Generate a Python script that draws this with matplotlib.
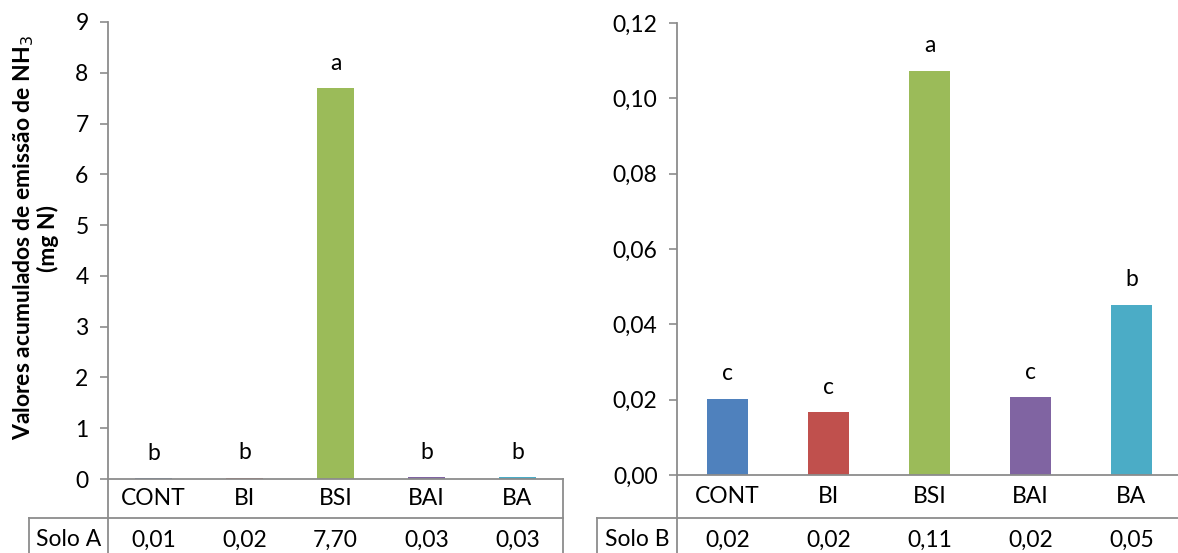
import matplotlib
matplotlib.use('Agg')
import matplotlib.pyplot as plt
from matplotlib.lines import Line2D
import numpy as np

plt.rcParams['font.family'] = ['Lato', 'DejaVu Sans']

# data
categories = ['CONT', 'BI', 'BSI', 'BAI', 'BA']
solo_a = [0.01, 0.02, 7.70, 0.03, 0.03]
solo_b = [0.0202, 0.0166, 0.1073, 0.0206, 0.0452]
letters_a = ['b', 'b', 'a', 'b', 'b']
letters_b = ['c', 'c', 'a', 'c', 'b']
table_a = ['0,01', '0,02', '7,70', '0,03', '0,03']
table_b = ['0,02', '0,02', '0,11', '0,02', '0,05']
colors = ['#4F81BD', '#C0504D', '#9BBB59', '#8064A2', '#4BACC6']

W, H = 1178, 553
fig = plt.figure(figsize=(W / 100, H / 100), dpi=100)
gray = '#8c8c8c'
fs = 16.5

def px(x0, ytop, x1, ybot):
    # pixel box -> figure fraction rect
    return [x0 / W, (H - ybot) / H, (x1 - x0) / W, (ybot - ytop) / H]

def panel(rect, vals, letters, tvals, rowname, ymax, yticks, ylabels, row_left):
    ax = fig.add_axes(rect)
    x = np.arange(len(categories))
    ax.bar(x, vals, width=0.41, color=colors, zorder=2)
    ax.set_xlim(-0.5, len(categories) - 0.5)
    ax.set_ylim(0, ymax)
    ax.set_yticks(yticks)
    ax.set_yticklabels(ylabels, fontsize=fs)
    ax.tick_params(axis='y', length=6, width=1.2, color=gray, pad=8)
    ax.set_xticks([])
    for s in ['top', 'right']:
        ax.spines[s].set_visible(False)
    for s in ['left', 'bottom']:
        ax.spines[s].set_color(gray)
        ax.spines[s].set_linewidth(1.3)
    for xi, v, l in zip(x, vals, letters):
        ax.annotate(l, (xi, v), xytext=(0, 18), textcoords='offset points',
                    ha='center', va='center', fontsize=fs)
    # data table under the axis
    bb = ax.get_position()
    ax_left = bb.x0 * W
    ax_right = bb.x1 * W
    zero_y = H - bb.y0 * H
    row_y = 518
    for xi, c, tv in zip(x, categories, tvals):
        xf = ax.transData.transform((xi, 0))[0] / W
        fig.text(xf, (H - (zero_y + row_y) / 2) / H, c, ha='center', va='center', fontsize=fs)
        fig.text(xf, (H - 540) / H, tv, ha='center', va='center', fontsize=fs)
    fig.text((row_left + ax_left) / 2 / W, (H - 540) / H, rowname, ha='center', va='center', fontsize=fs)
    lines = [
        ([row_left, ax_right], [row_y, row_y]),
        ([row_left, row_left], [row_y, H]),
        ([ax_left, ax_left], [zero_y, H]),
        ([ax_right, ax_right], [zero_y, H]),
    ]
    for xs, ys in lines:
        fig.add_artist(Line2D([v / W for v in xs], [(H - v) / H for v in ys],
                              color=gray, lw=1.3))
    return ax

ax1 = panel(px(108, 22, 563, 479), solo_a, letters_a, table_a, 'Solo A', 9,
            range(0, 10), [str(i) for i in range(0, 10)], 29)
ax2 = panel(px(677, 23, 1182, 475), solo_b, letters_b, table_b, 'Solo B', 0.12,
            np.arange(0, 0.121, 0.02), ['0,00', '0,02', '0,04', '0,06', '0,08', '0,10', '0,12'], 597)

fig.text(35 / W, (H - 238) / H, 'Valores acumulados de emissão de NH$_3$\n(mg N)',
         rotation=90, ha='center', va='center', fontsize=16.5, fontweight='bold',
         multialignment='center', linespacing=1.05)

fig.savefig('out.png', dpi=100)
